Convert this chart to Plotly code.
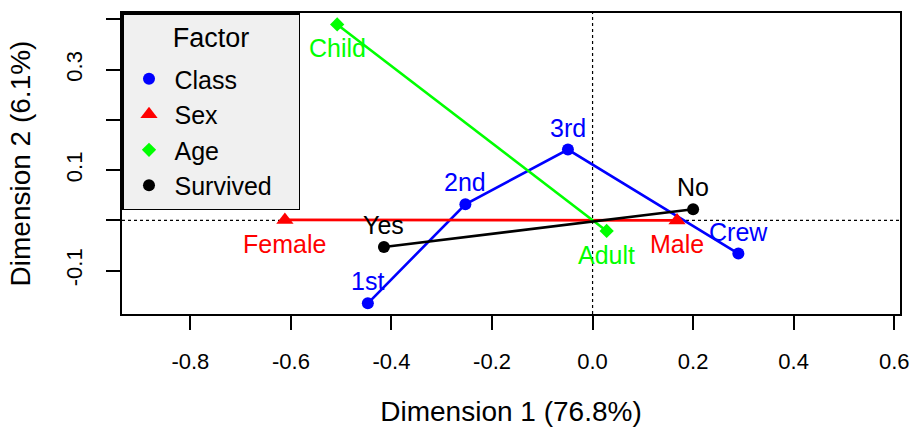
import plotly.graph_objects as go

# ---- data ----
factors = ["Class", "Sex", "Age", "Survived"]
levels = {
    "Class": ["1st", "2nd", "3rd", "Crew"],
    "Sex": ["Female", "Male"],
    "Age": ["Child", "Adult"],
    "Survived": ["Yes", "No"],
}
dim1 = {
    "Class": [-0.447, -0.253, -0.049, 0.290],
    "Sex": [-0.612, 0.168],
    "Age": [-0.508, 0.028],
    "Survived": [-0.415, 0.200],
}
dim2 = {
    "Class": [-0.165, 0.032, 0.141, -0.066],
    "Sex": [0.001, 0.0],
    "Age": [0.390, -0.021],
    "Survived": [-0.053, 0.022],
}
label_above = {
    "Class": [True, True, True, True],
    "Sex": [False, False],
    "Age": [False, False],
    "Survived": [True, True],
}
x_ticks = [-0.8, -0.6, -0.4, -0.2, 0.0, 0.2, 0.4, 0.6]
x_ticktext = ["-0.8", "-0.6", "-0.4", "-0.2", "0.0", "0.2", "0.4", "0.6"]
y_ticks = [-0.1, 0.0, 0.1, 0.2, 0.3, 0.4]
y_ticktext = ["-0.1", "", "0.1", "", "0.3", ""]
x_title = "Dimension 1 (76.8%)"
y_title = "Dimension 2 (6.1%)"
legend_title = "Factor"

colors = {"Class": "#0000FF", "Sex": "#FF0000", "Age": "#00FF00", "Survived": "#000000"}
symbols = {"Class": "circle", "Sex": "triangle-up", "Age": "diamond", "Survived": "circle"}
msize = {"Class": 12, "Sex": 15, "Age": 11, "Survived": 12}

FONT = "Liberation Sans, Arial, sans-serif"
NB = "\u00a0"

fig = go.Figure()

# reference lines
fig.add_shape(type="line", xref="x", yref="paper", x0=0, x1=0, y0=0, y1=1,
              line=dict(color="black", width=1.2, dash="dot"), layer="below")
fig.add_shape(type="line", xref="paper", yref="y", x0=0, x1=1, y0=0, y1=0,
              line=dict(color="black", width=1.2, dash="dot"), layer="below")

for f in factors:
    fig.add_trace(go.Scatter(
        x=dim1[f], y=dim2[f], mode="lines+markers",
        line=dict(color=colors[f], width=2.6),
        marker=dict(color=colors[f], symbol=symbols[f], size=msize[f], line=dict(width=0)),
        showlegend=False, hoverinfo="skip"))
    for lv, xv, yv, up in zip(levels[f], dim1[f], dim2[f], label_above[f]):
        fig.add_annotation(x=xv, y=yv, text=lv, showarrow=False,
                           xanchor="center", yanchor="middle",
                           yshift=22 if up else -24,
                           font=dict(family=FONT, size=25, color=colors[f]))

# legend entries
for f in factors:
    fig.add_trace(go.Scatter(
        x=[None], y=[None], mode="markers",
        name=f + (NB * 3 if f == "Survived" else ""),
        marker=dict(color=colors[f], symbol=symbols[f], size=msize[f], line=dict(width=0))))

fig.update_layout(
    width=914, height=427,
    margin=dict(l=122, r=14, t=13, b=113),
    paper_bgcolor="white", plot_bgcolor="white",
    font=dict(family=FONT, color="black"),
    legend=dict(
        x=0, y=1, xanchor="left", yanchor="top",
        bgcolor="#F0F0F0", bordercolor="black", borderwidth=1.5,
        font=dict(family=FONT, size=25, color="black"),
        title=dict(text="<span style='font-size:27px;baseline-shift:-12px'>"
                        + legend_title + "</span><br> ",
                   side="top center", font=dict(family=FONT, size=16)),
        itemsizing="trace", itemwidth=41,
        tracegroupgap=0,
    ),
    xaxis=dict(
        range=[-0.936, 0.6115], tickvals=x_ticks, ticktext=x_ticktext,
        showgrid=False, zeroline=False, showline=True, mirror=True, automargin=False,
        linecolor="black", linewidth=1.5, ticks="outside", ticklen=14,
        tickwidth=1.5, tickcolor="black", ticklabelstandoff=13,
        tickfont=dict(family=FONT, size=22, color="black"),
        title=dict(text=x_title, font=dict(family=FONT, size=28), standoff=28),
    ),
    yaxis=dict(
        range=[-0.1863, 0.4127], tickvals=y_ticks, ticktext=y_ticktext,
        showgrid=False, zeroline=False, showline=True, mirror=True, automargin=False,
        linecolor="black", linewidth=1.5, ticks="outside", ticklen=14,
        tickwidth=1.5, tickcolor="black", tickangle=-90, ticklabelstandoff=15,
        tickfont=dict(family=FONT, size=22, color="black"),
        title=dict(text=y_title, font=dict(family=FONT, size=28), standoff=24),
    ),
)

fig.write_html("out.html", config={"displayModeBar": False},
               post_script="document.body.style.margin='0';")
